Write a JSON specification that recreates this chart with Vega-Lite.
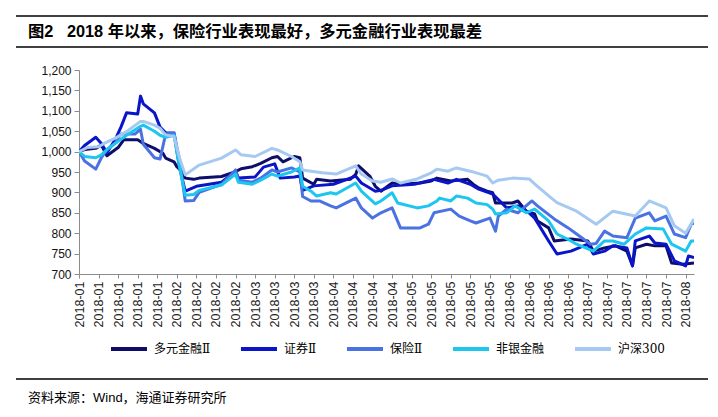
{
  "$schema": "https://vega.github.io/schema/vega-lite/v6.json",
  "background": "white",
  "padding": {"left": 15, "top": 15, "right": 0, "bottom": 0},
  "columns": 1,
  "spacing": 16,
  "resolve": {"legend": {"color": "independent"}},
  "config": {
    "view": {"stroke": null},
    "legend": {"layout": {"bottom": {"anchor": "middle"}}}
  },
  "concat": [
    {
      "width": 692,
      "height": 31,
      "data": {"values": [{"t": "图2\u00a0\u00a0\u00a02018 年以来，保险行业表现最好，多元金融行业表现最差"}]},
      "layer": [
        {"mark": {"type": "rule", "color": "#000", "strokeWidth": 1.5},
         "encoding": {"y": {"datum": 0, "type": "quantitative", "scale": {"domain": [0, 1]}, "axis": null}}},
        {"mark": {"type": "rule", "color": "#000", "strokeWidth": 1.5},
         "encoding": {"y": {"datum": 1, "type": "quantitative"}}},
        {"mark": {"type": "text", "align": "left", "baseline": "middle", "font": "Liberation Sans, Noto Sans CJK SC", "fontSize": 16.3, "fontWeight": "bold", "color": "#000", "dx": 12},
         "encoding": {
           "text": {"field": "t"},
           "x": {"datum": 0, "type": "quantitative", "scale": {"domain": [0, 1]}, "axis": null},
           "y": {"datum": 0.5, "type": "quantitative"}
         }}
      ]
    },
    {
      "spacing": 0,
      "resolve": {"legend": {"color": "independent"}},
      "hconcat": [
        {"width": 1, "height": 204, "data": {"values": []}, "mark": "point"},
        {
          "width": 615,
          "height": 204,
          "data": {"values": [
            {"d":"2018-01-02","s":"多元金融Ⅱ","v":1000},{"d":"2018-01-04","s":"多元金融Ⅱ","v":1005},{"d":"2018-01-08","s":"多元金融Ⅱ","v":1008},{"d":"2018-01-10","s":"多元金融Ⅱ","v":1016},{"d":"2018-01-12","s":"多元金融Ⅱ","v":990},{"d":"2018-01-16","s":"多元金融Ⅱ","v":1010},{"d":"2018-01-18","s":"多元金融Ⅱ","v":1029},{"d":"2018-01-23","s":"多元金融Ⅱ","v":1029},{"d":"2018-01-25","s":"多元金融Ⅱ","v":1020},{"d":"2018-01-29","s":"多元金融Ⅱ","v":1008},{"d":"2018-02-01","s":"多元金融Ⅱ","v":996},{"d":"2018-02-02","s":"多元金融Ⅱ","v":984},{"d":"2018-02-05","s":"多元金融Ⅱ","v":975},{"d":"2018-02-06","s":"多元金融Ⅱ","v":963},{"d":"2018-02-08","s":"多元金融Ⅱ","v":950},{"d":"2018-02-09","s":"多元金融Ⅱ","v":935},{"d":"2018-02-12","s":"多元金融Ⅱ","v":932},{"d":"2018-02-14","s":"多元金融Ⅱ","v":935},{"d":"2018-02-22","s":"多元金融Ⅱ","v":939},{"d":"2018-02-27","s":"多元金融Ⅱ","v":951},{"d":"2018-03-01","s":"多元金融Ⅱ","v":958},{"d":"2018-03-05","s":"多元金融Ⅱ","v":963},{"d":"2018-03-08","s":"多元金融Ⅱ","v":971},{"d":"2018-03-12","s":"多元金融Ⅱ","v":985},{"d":"2018-03-14","s":"多元金融Ⅱ","v":988},{"d":"2018-03-16","s":"多元金融Ⅱ","v":975},{"d":"2018-03-20","s":"多元金融Ⅱ","v":988},{"d":"2018-03-22","s":"多元金融Ⅱ","v":985},{"d":"2018-03-23","s":"多元金融Ⅱ","v":935},{"d":"2018-03-27","s":"多元金融Ⅱ","v":920},{"d":"2018-03-28","s":"多元金融Ⅱ","v":932},{"d":"2018-04-02","s":"多元金融Ⅱ","v":928},{"d":"2018-04-09","s":"多元金融Ⅱ","v":932},{"d":"2018-04-11","s":"多元金融Ⅱ","v":944},{"d":"2018-04-12","s":"多元金融Ⅱ","v":965},{"d":"2018-04-16","s":"多元金融Ⅱ","v":940},{"d":"2018-04-18","s":"多元金融Ⅱ","v":915},{"d":"2018-04-20","s":"多元金融Ⅱ","v":903},{"d":"2018-04-24","s":"多元金融Ⅱ","v":923},{"d":"2018-04-27","s":"多元金融Ⅱ","v":920},{"d":"2018-05-04","s":"多元金融Ⅱ","v":923},{"d":"2018-05-08","s":"多元金融Ⅱ","v":928},{"d":"2018-05-10","s":"多元金融Ⅱ","v":935},{"d":"2018-05-15","s":"多元金融Ⅱ","v":928},{"d":"2018-05-21","s":"多元金融Ⅱ","v":932},{"d":"2018-05-23","s":"多元金融Ⅱ","v":920},{"d":"2018-05-25","s":"多元金融Ⅱ","v":911},{"d":"2018-05-28","s":"多元金融Ⅱ","v":903},{"d":"2018-05-30","s":"多元金融Ⅱ","v":899},{"d":"2018-05-31","s":"多元金融Ⅱ","v":874},{"d":"2018-06-06","s":"多元金融Ⅱ","v":874},{"d":"2018-06-08","s":"多元金融Ⅱ","v":879},{"d":"2018-06-11","s":"多元金融Ⅱ","v":854},{"d":"2018-06-14","s":"多元金融Ⅱ","v":847},{"d":"2018-06-15","s":"多元金融Ⅱ","v":830},{"d":"2018-06-19","s":"多元金融Ⅱ","v":813},{"d":"2018-06-21","s":"多元金融Ⅱ","v":781},{"d":"2018-06-27","s":"多元金融Ⅱ","v":786},{"d":"2018-07-03","s":"多元金融Ⅱ","v":781},{"d":"2018-07-05","s":"多元金融Ⅱ","v":756},{"d":"2018-07-09","s":"多元金融Ⅱ","v":764},{"d":"2018-07-13","s":"多元金融Ⅱ","v":769},{"d":"2018-07-17","s":"多元金融Ⅱ","v":756},{"d":"2018-07-19","s":"多元金融Ⅱ","v":720},{"d":"2018-07-20","s":"多元金融Ⅱ","v":764},{"d":"2018-07-24","s":"多元金融Ⅱ","v":773},{"d":"2018-07-27","s":"多元金融Ⅱ","v":769},{"d":"2018-07-31","s":"多元金融Ⅱ","v":769},{"d":"2018-08-02","s":"多元金融Ⅱ","v":727},{"d":"2018-08-06","s":"多元金融Ⅱ","v":724},{"d":"2018-08-10","s":"多元金融Ⅱ","v":727},

            {"d":"2018-01-02","s":"证券Ⅱ","v":1000},{"d":"2018-01-04","s":"证券Ⅱ","v":1015},{"d":"2018-01-08","s":"证券Ⅱ","v":1035},{"d":"2018-01-10","s":"证券Ⅱ","v":1020},{"d":"2018-01-12","s":"证券Ⅱ","v":997},{"d":"2018-01-15","s":"证券Ⅱ","v":1030},{"d":"2018-01-17","s":"证券Ⅱ","v":1060},{"d":"2018-01-19","s":"证券Ⅱ","v":1095},{"d":"2018-01-23","s":"证券Ⅱ","v":1092},{"d":"2018-01-24","s":"证券Ⅱ","v":1136},{"d":"2018-01-25","s":"证券Ⅱ","v":1117},{"d":"2018-01-29","s":"证券Ⅱ","v":1095},{"d":"2018-01-31","s":"证券Ⅱ","v":1060},{"d":"2018-02-02","s":"证券Ⅱ","v":1046},{"d":"2018-02-05","s":"证券Ⅱ","v":1045},{"d":"2018-02-07","s":"证券Ⅱ","v":960},{"d":"2018-02-09","s":"证券Ⅱ","v":903},{"d":"2018-02-13","s":"证券Ⅱ","v":915},{"d":"2018-02-22","s":"证券Ⅱ","v":925},{"d":"2018-02-27","s":"证券Ⅱ","v":952},{"d":"2018-02-28","s":"证券Ⅱ","v":935},{"d":"2018-03-06","s":"证券Ⅱ","v":938},{"d":"2018-03-09","s":"证券Ⅱ","v":962},{"d":"2018-03-13","s":"证券Ⅱ","v":970},{"d":"2018-03-15","s":"证券Ⅱ","v":935},{"d":"2018-03-20","s":"证券Ⅱ","v":938},{"d":"2018-03-22","s":"证券Ⅱ","v":940},{"d":"2018-03-23","s":"证券Ⅱ","v":905},{"d":"2018-03-27","s":"证券Ⅱ","v":916},{"d":"2018-04-03","s":"证券Ⅱ","v":920},{"d":"2018-04-11","s":"证券Ⅱ","v":940},{"d":"2018-04-13","s":"证券Ⅱ","v":923},{"d":"2018-04-18","s":"证券Ⅱ","v":903},{"d":"2018-04-20","s":"证券Ⅱ","v":905},{"d":"2018-04-24","s":"证券Ⅱ","v":916},{"d":"2018-05-02","s":"证券Ⅱ","v":920},{"d":"2018-05-09","s":"证券Ⅱ","v":932},{"d":"2018-05-14","s":"证券Ⅱ","v":923},{"d":"2018-05-17","s":"证券Ⅱ","v":932},{"d":"2018-05-22","s":"证券Ⅱ","v":920},{"d":"2018-05-25","s":"证券Ⅱ","v":908},{"d":"2018-05-30","s":"证券Ⅱ","v":896},{"d":"2018-06-04","s":"证券Ⅱ","v":862},{"d":"2018-06-08","s":"证券Ⅱ","v":867},{"d":"2018-06-12","s":"证券Ⅱ","v":850},{"d":"2018-06-14","s":"证券Ⅱ","v":837},{"d":"2018-06-19","s":"证券Ⅱ","v":781},{"d":"2018-06-22","s":"证券Ⅱ","v":749},{"d":"2018-06-27","s":"证券Ⅱ","v":756},{"d":"2018-07-03","s":"证券Ⅱ","v":773},{"d":"2018-07-05","s":"证券Ⅱ","v":749},{"d":"2018-07-09","s":"证券Ⅱ","v":756},{"d":"2018-07-12","s":"证券Ⅱ","v":769},{"d":"2018-07-17","s":"证券Ⅱ","v":764},{"d":"2018-07-19","s":"证券Ⅱ","v":720},{"d":"2018-07-20","s":"证券Ⅱ","v":781},{"d":"2018-07-25","s":"证券Ⅱ","v":793},{"d":"2018-07-27","s":"证券Ⅱ","v":776},{"d":"2018-07-31","s":"证券Ⅱ","v":773},{"d":"2018-08-03","s":"证券Ⅱ","v":732},{"d":"2018-08-07","s":"证券Ⅱ","v":720},{"d":"2018-08-08","s":"证券Ⅱ","v":744},{"d":"2018-08-10","s":"证券Ⅱ","v":740},

            {"d":"2018-01-02","s":"保险Ⅱ","v":1000},{"d":"2018-01-04","s":"保险Ⅱ","v":977},{"d":"2018-01-08","s":"保险Ⅱ","v":957},{"d":"2018-01-10","s":"保险Ⅱ","v":985},{"d":"2018-01-12","s":"保险Ⅱ","v":1005},{"d":"2018-01-15","s":"保险Ⅱ","v":1021},{"d":"2018-01-17","s":"保险Ⅱ","v":1043},{"d":"2018-01-22","s":"保险Ⅱ","v":1043},{"d":"2018-01-24","s":"保险Ⅱ","v":1055},{"d":"2018-01-25","s":"保险Ⅱ","v":1018},{"d":"2018-01-29","s":"保险Ⅱ","v":985},{"d":"2018-01-31","s":"保险Ⅱ","v":982},{"d":"2018-02-02","s":"保险Ⅱ","v":1043},{"d":"2018-02-05","s":"保险Ⅱ","v":1046},{"d":"2018-02-07","s":"保险Ⅱ","v":977},{"d":"2018-02-09","s":"保险Ⅱ","v":879},{"d":"2018-02-12","s":"保险Ⅱ","v":880},{"d":"2018-02-14","s":"保险Ⅱ","v":900},{"d":"2018-02-22","s":"保险Ⅱ","v":920},{"d":"2018-02-27","s":"保险Ⅱ","v":955},{"d":"2018-02-28","s":"保险Ⅱ","v":930},{"d":"2018-03-05","s":"保险Ⅱ","v":925},{"d":"2018-03-08","s":"保险Ⅱ","v":935},{"d":"2018-03-12","s":"保险Ⅱ","v":955},{"d":"2018-03-14","s":"保险Ⅱ","v":950},{"d":"2018-03-19","s":"保险Ⅱ","v":960},{"d":"2018-03-22","s":"保险Ⅱ","v":950},{"d":"2018-03-23","s":"保险Ⅱ","v":890},{"d":"2018-03-26","s":"保险Ⅱ","v":879},{"d":"2018-03-29","s":"保险Ⅱ","v":879},{"d":"2018-04-02","s":"保险Ⅱ","v":867},{"d":"2018-04-04","s":"保险Ⅱ","v":862},{"d":"2018-04-11","s":"保险Ⅱ","v":886},{"d":"2018-04-13","s":"保险Ⅱ","v":862},{"d":"2018-04-17","s":"保险Ⅱ","v":837},{"d":"2018-04-20","s":"保险Ⅱ","v":850},{"d":"2018-04-24","s":"保险Ⅱ","v":862},{"d":"2018-04-27","s":"保险Ⅱ","v":813},{"d":"2018-05-04","s":"保险Ⅱ","v":813},{"d":"2018-05-07","s":"保险Ⅱ","v":822},{"d":"2018-05-09","s":"保险Ⅱ","v":850},{"d":"2018-05-15","s":"保险Ⅱ","v":859},{"d":"2018-05-18","s":"保险Ⅱ","v":842},{"d":"2018-05-22","s":"保险Ⅱ","v":830},{"d":"2018-05-24","s":"保险Ⅱ","v":825},{"d":"2018-05-29","s":"保险Ⅱ","v":837},{"d":"2018-05-31","s":"保险Ⅱ","v":805},{"d":"2018-06-01","s":"保险Ⅱ","v":842},{"d":"2018-06-04","s":"保险Ⅱ","v":859},{"d":"2018-06-08","s":"保险Ⅱ","v":850},{"d":"2018-06-13","s":"保险Ⅱ","v":879},{"d":"2018-06-15","s":"保险Ⅱ","v":867},{"d":"2018-06-21","s":"保险Ⅱ","v":835},{"d":"2018-06-26","s":"保险Ⅱ","v":813},{"d":"2018-06-29","s":"保险Ⅱ","v":798},{"d":"2018-07-04","s":"保险Ⅱ","v":773},{"d":"2018-07-06","s":"保险Ⅱ","v":775},{"d":"2018-07-09","s":"保险Ⅱ","v":805},{"d":"2018-07-12","s":"保险Ⅱ","v":793},{"d":"2018-07-17","s":"保险Ⅱ","v":789},{"d":"2018-07-20","s":"保险Ⅱ","v":837},{"d":"2018-07-25","s":"保险Ⅱ","v":850},{"d":"2018-07-27","s":"保险Ⅱ","v":830},{"d":"2018-07-31","s":"保险Ⅱ","v":842},{"d":"2018-08-03","s":"保险Ⅱ","v":798},{"d":"2018-08-07","s":"保险Ⅱ","v":789},{"d":"2018-08-09","s":"保险Ⅱ","v":822},{"d":"2018-08-10","s":"保险Ⅱ","v":825},

            {"d":"2018-01-02","s":"非银金融","v":1000},{"d":"2018-01-04","s":"非银金融","v":988},{"d":"2018-01-08","s":"非银金融","v":985},{"d":"2018-01-10","s":"非银金融","v":992},{"d":"2018-01-12","s":"非银金融","v":1005},{"d":"2018-01-16","s":"非银金融","v":1025},{"d":"2018-01-19","s":"非银金融","v":1040},{"d":"2018-01-24","s":"非银金融","v":1062},{"d":"2018-01-25","s":"非银金融","v":1065},{"d":"2018-01-29","s":"非银金融","v":1050},{"d":"2018-01-31","s":"非银金融","v":1040},{"d":"2018-02-02","s":"非银金融","v":1035},{"d":"2018-02-05","s":"非银金融","v":1040},{"d":"2018-02-07","s":"非银金融","v":960},{"d":"2018-02-09","s":"非银金融","v":893},{"d":"2018-02-12","s":"非银金融","v":895},{"d":"2018-02-14","s":"非银金融","v":905},{"d":"2018-02-22","s":"非银金融","v":918},{"d":"2018-02-27","s":"非银金融","v":945},{"d":"2018-02-28","s":"非银金融","v":925},{"d":"2018-03-05","s":"非银金融","v":920},{"d":"2018-03-08","s":"非银金融","v":930},{"d":"2018-03-12","s":"非银金融","v":945},{"d":"2018-03-14","s":"非银金融","v":940},{"d":"2018-03-19","s":"非银金融","v":950},{"d":"2018-03-22","s":"非银金融","v":960},{"d":"2018-03-23","s":"非银金融","v":915},{"d":"2018-03-26","s":"非银金融","v":903},{"d":"2018-03-28","s":"非银金融","v":891},{"d":"2018-04-02","s":"非银金融","v":899},{"d":"2018-04-04","s":"非银金融","v":896},{"d":"2018-04-11","s":"非银金融","v":923},{"d":"2018-04-13","s":"非银金融","v":903},{"d":"2018-04-18","s":"非银金融","v":872},{"d":"2018-04-20","s":"非银金融","v":879},{"d":"2018-04-24","s":"非银金融","v":899},{"d":"2018-04-26","s":"非银金融","v":874},{"d":"2018-05-03","s":"非银金融","v":862},{"d":"2018-05-07","s":"非银金融","v":867},{"d":"2018-05-10","s":"非银金融","v":879},{"d":"2018-05-11","s":"非银金融","v":886},{"d":"2018-05-15","s":"非银金融","v":879},{"d":"2018-05-17","s":"非银金融","v":891},{"d":"2018-05-21","s":"非银金融","v":886},{"d":"2018-05-24","s":"非银金融","v":874},{"d":"2018-05-28","s":"非银金融","v":870},{"d":"2018-05-30","s":"非银金融","v":859},{"d":"2018-05-31","s":"非银金融","v":847},{"d":"2018-06-04","s":"非银金融","v":850},{"d":"2018-06-07","s":"非银金融","v":867},{"d":"2018-06-11","s":"非银金融","v":850},{"d":"2018-06-14","s":"非银金融","v":859},{"d":"2018-06-19","s":"非银金融","v":830},{"d":"2018-06-22","s":"非银金融","v":798},{"d":"2018-06-27","s":"非银金融","v":781},{"d":"2018-06-29","s":"非银金融","v":773},{"d":"2018-07-05","s":"非银金融","v":756},{"d":"2018-07-09","s":"非银金融","v":781},{"d":"2018-07-12","s":"非银金融","v":781},{"d":"2018-07-16","s":"非银金融","v":773},{"d":"2018-07-20","s":"非银金融","v":798},{"d":"2018-07-24","s":"非银金融","v":813},{"d":"2018-07-30","s":"非银金融","v":810},{"d":"2018-08-02","s":"非银金融","v":773},{"d":"2018-08-07","s":"非银金融","v":756},{"d":"2018-08-09","s":"非银金融","v":781},{"d":"2018-08-10","s":"非银金融","v":781},

            {"d":"2018-01-02","s":"沪深300","v":1000},{"d":"2018-01-05","s":"沪深300","v":1010},{"d":"2018-01-09","s":"沪深300","v":1012},{"d":"2018-01-11","s":"沪深300","v":1020},{"d":"2018-01-15","s":"沪深300","v":1033},{"d":"2018-01-19","s":"沪深300","v":1049},{"d":"2018-01-24","s":"沪深300","v":1074},{"d":"2018-01-25","s":"沪深300","v":1074},{"d":"2018-01-29","s":"沪深300","v":1065},{"d":"2018-01-31","s":"沪深300","v":1057},{"d":"2018-02-02","s":"沪深300","v":1041},{"d":"2018-02-05","s":"沪深300","v":1037},{"d":"2018-02-07","s":"沪深300","v":984},{"d":"2018-02-09","s":"沪深300","v":943},{"d":"2018-02-14","s":"沪深300","v":967},{"d":"2018-02-22","s":"沪深300","v":984},{"d":"2018-02-27","s":"沪深300","v":1004},{"d":"2018-03-01","s":"沪深300","v":992},{"d":"2018-03-06","s":"沪深300","v":988},{"d":"2018-03-12","s":"沪深300","v":1008},{"d":"2018-03-14","s":"沪深300","v":1004},{"d":"2018-03-19","s":"沪深300","v":988},{"d":"2018-03-22","s":"沪深300","v":975},{"d":"2018-03-23","s":"沪深300","v":955},{"d":"2018-03-26","s":"沪深300","v":952},{"d":"2018-03-30","s":"沪深300","v":948},{"d":"2018-04-04","s":"沪深300","v":945},{"d":"2018-04-11","s":"沪深300","v":965},{"d":"2018-04-13","s":"沪深300","v":945},{"d":"2018-04-17","s":"沪深300","v":928},{"d":"2018-04-20","s":"沪深300","v":925},{"d":"2018-04-24","s":"沪深300","v":933},{"d":"2018-04-27","s":"沪深300","v":923},{"d":"2018-05-03","s":"沪深300","v":933},{"d":"2018-05-08","s":"沪深300","v":948},{"d":"2018-05-10","s":"沪深300","v":957},{"d":"2018-05-14","s":"沪深300","v":952},{"d":"2018-05-17","s":"沪深300","v":960},{"d":"2018-05-22","s":"沪深300","v":952},{"d":"2018-05-28","s":"沪深300","v":940},{"d":"2018-05-30","s":"沪深300","v":923},{"d":"2018-06-01","s":"沪深300","v":930},{"d":"2018-06-06","s":"沪深300","v":935},{"d":"2018-06-12","s":"沪深300","v":933},{"d":"2018-06-15","s":"沪深300","v":915},{"d":"2018-06-20","s":"沪深300","v":886},{"d":"2018-06-22","s":"沪深300","v":875},{"d":"2018-06-29","s":"沪深300","v":854},{"d":"2018-07-06","s":"沪深300","v":822},{"d":"2018-07-12","s":"沪深300","v":854},{"d":"2018-07-20","s":"沪深300","v":842},{"d":"2018-07-25","s":"沪深300","v":879},{"d":"2018-07-31","s":"沪深300","v":862},{"d":"2018-08-03","s":"沪深300","v":818},{"d":"2018-08-07","s":"沪深300","v":800},{"d":"2018-08-10","s":"沪深300","v":835}
          ]},
          "mark": {"type": "line", "strokeWidth": 3, "strokeJoin": "round", "clip": true},
          "encoding": {
            "x": {
              "field": "d", "type": "temporal",
              "scale": {"domain": [{"year": 2018, "month": 1, "date": 2, "utc": true}, {"year": 2018, "month": 8, "date": 10, "utc": true}]},
              "axis": {
                "title": null, "grid": false,
                "values": [
                  {"year":2018,"month":1,"date":2,"utc":true},{"year":2018,"month":1,"date":9,"utc":true},{"year":2018,"month":1,"date":16,"utc":true},{"year":2018,"month":1,"date":23,"utc":true},{"year":2018,"month":1,"date":30,"utc":true},
                  {"year":2018,"month":2,"date":6,"utc":true},{"year":2018,"month":2,"date":13,"utc":true},{"year":2018,"month":2,"date":20,"utc":true},{"year":2018,"month":2,"date":27,"utc":true},
                  {"year":2018,"month":3,"date":6,"utc":true},{"year":2018,"month":3,"date":13,"utc":true},{"year":2018,"month":3,"date":20,"utc":true},{"year":2018,"month":3,"date":27,"utc":true},
                  {"year":2018,"month":4,"date":3,"utc":true},{"year":2018,"month":4,"date":10,"utc":true},{"year":2018,"month":4,"date":17,"utc":true},{"year":2018,"month":4,"date":24,"utc":true},
                  {"year":2018,"month":5,"date":1,"utc":true},{"year":2018,"month":5,"date":8,"utc":true},{"year":2018,"month":5,"date":15,"utc":true},{"year":2018,"month":5,"date":22,"utc":true},{"year":2018,"month":5,"date":29,"utc":true},
                  {"year":2018,"month":6,"date":5,"utc":true},{"year":2018,"month":6,"date":12,"utc":true},{"year":2018,"month":6,"date":19,"utc":true},{"year":2018,"month":6,"date":26,"utc":true},
                  {"year":2018,"month":7,"date":3,"utc":true},{"year":2018,"month":7,"date":10,"utc":true},{"year":2018,"month":7,"date":17,"utc":true},{"year":2018,"month":7,"date":24,"utc":true},{"year":2018,"month":7,"date":31,"utc":true},
                  {"year":2018,"month":8,"date":7,"utc":true}
                ],
                "labelExpr": "utcFormat(datum.value, '%Y-%m')",
                "labelAngle": -90, "labelAlign": "right", "labelBaseline": "middle",
                "labelFont": "Liberation Sans", "labelFontSize": 12.5, "labelColor": "#222", "labelPadding": 3,
                "labelOverlap": false, "labelFlush": false,
                "domainColor": "#8c8c8c", "tickColor": "#8c8c8c", "tickSize": 4
              }
            },
            "y": {
              "field": "v", "type": "quantitative",
              "scale": {"domain": [700, 1200], "zero": false, "nice": false},
              "axis": {
                "title": null, "grid": false,
                "values": [700, 750, 800, 850, 900, 950, 1000, 1050, 1100, 1150, 1200],
                "format": ",.0f",
                "labelFont": "Liberation Sans", "labelFontSize": 12, "labelColor": "#111", "labelPadding": 3,
                "domainColor": "#8c8c8c", "tickColor": "#8c8c8c", "tickSize": 5,
                "minExtent": 62
              }
            },
            "color": {
              "field": "s", "type": "nominal",
              "scale": {
                "domain": ["多元金融Ⅱ", "证券Ⅱ", "保险Ⅱ", "非银金融", "沪深300"],
                "range": ["#0e0e6a", "#0a14c8", "#4a72e2", "#1cc6ef", "#a6c9f1"]
              },
              "legend": {
                "title": null, "orient": "bottom", "direction": "horizontal",
                "symbolType": "stroke", "symbolSize": 1296, "symbolStrokeWidth": 4,
                "labelFont": "DejaVu Serif, Noto Sans CJK SC", "labelFontSize": 12, "labelColor": "#000",
                "labelOffset": 5, "columnPadding": 22, "padding": 5, "offset": -3
              }
            }
          }
        }
      ]
    },
    {
      "width": 692,
      "height": 38,
      "data": {"values": [{"t": "资料来源：Wind，海通证券研究所"}]},
      "layer": [
        {"mark": {"type": "rule", "color": "#000", "strokeWidth": 1.5},
         "encoding": {"y": {"datum": 1, "type": "quantitative", "scale": {"domain": [0, 1]}, "axis": null}}},
        {"mark": {"type": "text", "align": "left", "baseline": "middle", "font": "Liberation Sans, Noto Sans CJK SC", "fontSize": 13, "color": "#000", "dx": 12},
         "encoding": {
           "text": {"field": "t"},
           "x": {"datum": 0, "type": "quantitative", "scale": {"domain": [0, 1]}, "axis": null},
           "y": {"datum": 0.5, "type": "quantitative"}
         }}
      ]
    }
  ]
}
